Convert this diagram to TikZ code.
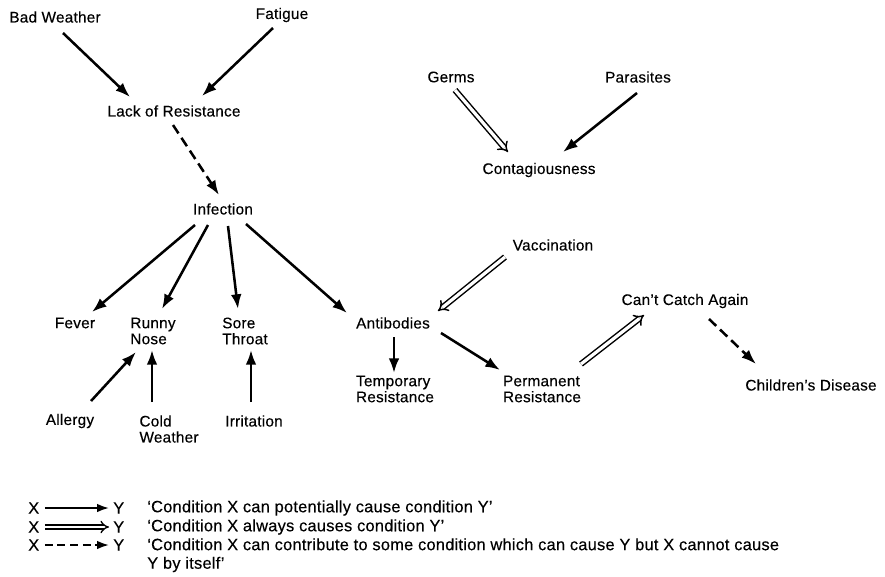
\documentclass[tikz,border=0pt]{standalone}
\usepackage{fontspec}
\setmainfont{Liberation Sans}[LetterSpace=1.5,FakeBold=0.3]
\usetikzlibrary{arrows.meta,calc}
\begin{document}
\begin{tikzpicture}[x=0.75pt,y=-0.75pt,
  lbl/.style={inner sep=0pt,font=\fontsize{11.5}{12}\selectfont,align=left},
  key/.style={inner sep=0pt,font=\fontsize{12.3}{13.9}\selectfont,align=left,anchor=west},
  tip/.style={-{Latex[length=11pt,width=8pt]}},
  pot/.style={line width=1.9pt,tip},
  always/.style={line width=1.1pt,double,double distance=2.4pt,-{Implies}},
  contrib/.style={line width=1.9pt,dash pattern=on 7.5pt off 4pt,tip}]
\useasboundingbox (0,0) rectangle (885,576);

% nodes
\node[lbl] (bw) at (55,17) {Bad Weather};
\node[lbl] (fat) at (282,15) {Fatigue};
\node[lbl] (lor) at (174,111) {Lack of Resistance};
\node[lbl] (inf) at (223,209) {Infection};
\node[lbl] (germs) at (451,77) {Germs};
\node[lbl] (para) at (638,77) {Parasites};
\node[lbl] (cont) at (539,170) {Contagiousness};
\node[lbl] (vacc) at (553,245) {Vaccination};
\node[lbl] (fever) at (75,323) {Fever};
\node[lbl] (runny) at (153,331) {Runny\\Nose};
\node[lbl] (sore) at (245,331) {Sore\\Throat};
\node[lbl] (anti) at (393,323) {Antibodies};
\node[lbl] (cca) at (685,301) {Can't Catch Again};
\node[lbl] (temp) at (395,389) {Temporary\\Resistance};
\node[lbl] (perm) at (542,389) {Permanent\\Resistance};
\node[lbl] (cd) at (811,385) {Children's Disease};
\node[lbl] (allergy) at (70,421) {Allergy};
\node[lbl] (cold) at (169,429) {Cold\\Weather};
\node[lbl] (irrit) at (254,421) {Irritation};

% connectors
\draw[pot] ($(bw)+(8,16)$) -- ($(lor)+(-44,-14)$);
\draw[pot] ($(fat)+(-9,13)$) -- ($(lor)+(28,-15)$);
\draw[contrib] ($(lor)+(-1,14)$) -- ($(inf)+(-4,-14)$);
\draw[pot] ($(inf)+(-28,16)$) -- ($(fever)+(17,-11)$);
\draw[pot] ($(inf)+(-15,16)$) -- ($(runny)+(9,-22)$);
\draw[pot] ($(inf)+(5,17)$) -- ($(sore)+(-7,-22)$);
\draw[pot] ($(inf)+(23,15)$) -- ($(anti)+(-46,-10)$);
\draw[pot] ($(allergy)+(21,-20)$) -- ($(runny)+(-17,21)$);
\draw[pot] ($(cold)+(-17,-27)$) -- ($(runny)+(-1,19)$);
\draw[pot] ($(irrit)+(-3,-19)$) -- ($(sore)+(6,19)$);
\draw[always] ($(germs)+(4,13)$) -- ($(cont)+(-31,-18)$);
\draw[pot] ($(para)+(-1,16)$) -- ($(cont)+(24,-18)$);
\draw[always] ($(vacc)+(-48,12)$) -- ($(anti)+(45,-12)$);
\draw[pot] ($(anti)+(1,14)$) -- ($(temp)+(-1,-16)$);
\draw[pot] ($(anti)+(48,10)$) -- ($(perm)+(-42,-19)$);
\draw[always] ($(perm)+(39,-25)$) -- ($(cca)+(-41,14)$);
\draw[contrib] ($(cca)+(24,18)$) -- ($(cd)+(-55,-21)$);

% key
\node[key] (x1) at (28,508) {X};
\node[key] (y1) at (113,508) {Y};
\node[key] (t1) at (147,508) {‘Condition X can potentially cause condition Y’};
\node[key] (x2) at (28,527) {X};
\node[key] (y2) at (113,527) {Y};
\node[key] (t2) at (147,527) {‘Condition X always causes condition Y’};
\node[key] (x3) at (28,545) {X};
\node[key] (y3) at (113,545) {Y};
\node[key,anchor=north west] (t3) at (147,538) {‘Condition X can contribute to some condition which can cause Y but X cannot cause\\Y by itself’};
\draw[line width=1.5pt,-{Latex[length=9pt,width=6.5pt]}] ([xshift=4pt]x1.east) -- ([xshift=-3pt]y1.west);
\draw[line width=1pt,double,double distance=2.2pt,-{Implies}] ([xshift=4pt]x2.east) -- ([xshift=-3pt]y2.west);
\draw[line width=1.5pt,dash pattern=on 6pt off 3.5pt,-{Latex[length=9pt,width=6.5pt]}] ([xshift=4pt]x3.east) -- ([xshift=-3pt]y3.west);
\end{tikzpicture}
\end{document}
